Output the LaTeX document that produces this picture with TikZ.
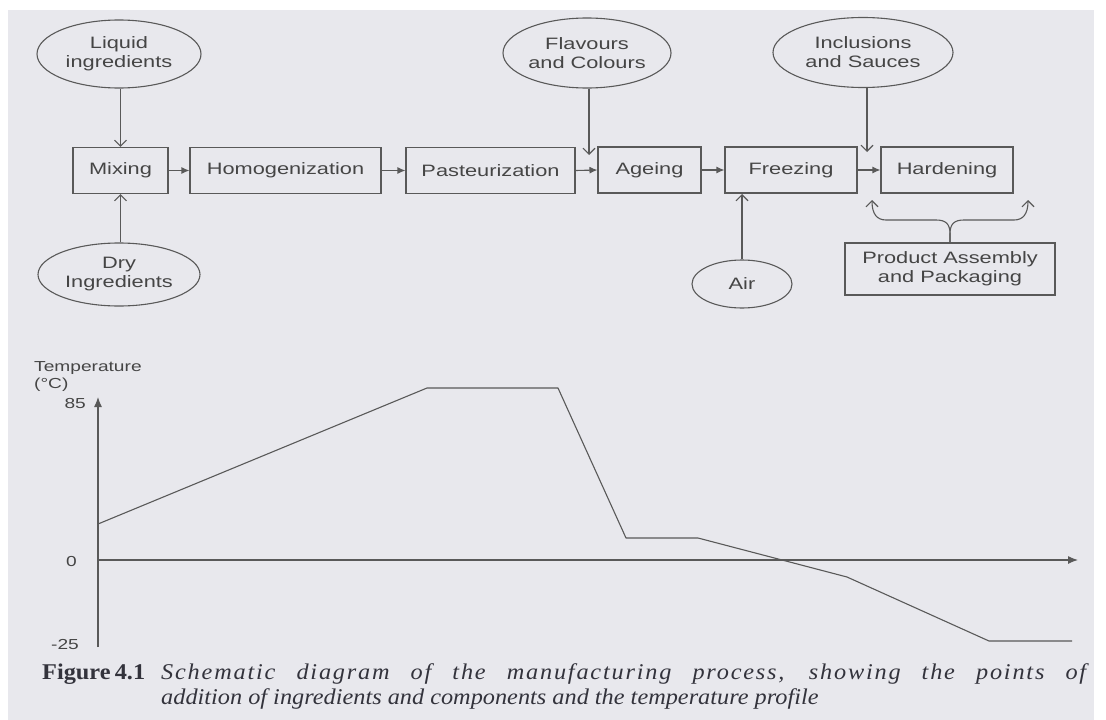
\documentclass[tikz,border=0pt]{standalone}
\usepackage{fontspec}
\setmainfont[FakeStretch=1.32]{Liberation Sans}
\newfontfamily\capfont[FakeStretch=1.08]{Liberation Serif}
\newfontfamily\capfontls[FakeStretch=1.08,LetterSpace=8]{Liberation Serif}
\usetikzlibrary{shapes.geometric,arrows.meta}
\definecolor{bgc}{HTML}{E8E8ED}
\definecolor{lc}{HTML}{595959}
\definecolor{tc}{HTML}{454545}
\definecolor{capc}{HTML}{33333C}
\newcommand\dfont{\fontsize{16.5}{19}\selectfont}
\newcommand\afont{\fontsize{14.5}{16}\selectfont}
\newcommand\cfont{\capfont\fontsize{22.5}{25}\selectfont}
\begin{document}
\begin{tikzpicture}[x=1pt,y=-1pt,
  procbox/.style={draw=lc, line width=1.1pt, rectangle, minimum height=46pt, inner sep=0pt, text=tc, font=\dfont, align=center},
  ingr/.style={draw=lc, line width=1.1pt, ellipse, inner sep=0pt, text=tc, font=\dfont, align=center},
  flowarrow/.style={draw=lc, line width=1.1pt, -{Latex[length=8pt,width=7pt]}},
  feedarrow/.style={draw=lc, line width=1.1pt, -{Straight Barb[length=6pt,width=12pt]}},
  axisarrow/.style={draw=lc, line width=1.2pt, -{Latex[length=10pt,width=8pt]}},
  axlabel/.style={inner sep=0pt, text=tc, font=\afont},
  curveline/.style={draw=lc, line width=1.1pt, line join=round},
  captext/.style={inner sep=0pt, text=capc, font=\cfont, anchor=base west}
]
\useasboundingbox (0,0) rectangle (1106,720);
\fill[white] (0,0) rectangle (1106,720);
\fill[bgc] (8,10) rectangle (1094,720);

% process boxes
\node[procbox, minimum width=95pt]  (mix)  at (120.5,170.5) {Mixing};
\node[procbox, minimum width=191pt] (hom)  at (285.5,170.5) {Homogenization};
\node[procbox, minimum width=169pt] (pas)  at (490.5,170.5) {Pasteurization};
\node[procbox, minimum width=103pt] (age)  at (649.5,170)   {Ageing};
\node[procbox, minimum width=132pt] (frz)  at (791,170)     {Freezing};
\node[procbox, minimum width=132pt] (hard) at (947,170)     {Hardening};
\node[procbox, minimum width=210pt, minimum height=52pt] (pab) at (950,269) {Product Assembly\\and Packaging};

% ingredient ellipses
\node[ingr, minimum width=164pt, minimum height=68pt] (liq) at (119,54)  {Liquid\\ingredients};
\node[ingr, minimum width=162pt, minimum height=63pt] (dry) at (119,274.5) {Dry\\Ingredients};
\node[ingr, minimum width=168pt, minimum height=70pt] (flav) at (587,53) {Flavours\\and Colours};
\node[ingr, minimum width=180pt, minimum height=70pt] (incl) at (863,52.5) {Inclusions\\and Sauces};
\node[ingr, minimum width=100pt, minimum height=48pt] (air) at (742,284) {Air};

% process flow
\draw[flowarrow] (mix.east) -- (hom.west);
\draw[flowarrow] (hom.east) -- (pas.west);
\draw[flowarrow] (pas.east) -- (age.west);
\draw[flowarrow] (age.east) -- (frz.west);
\draw[flowarrow] (frz.east) -- (hard.west);

% feeds
\coordinate (fa) at (589,155);
\coordinate (ia) at (867,152);
\coordinate (aa) at (742,194);
\coordinate (lt) at (872,200);
\coordinate (rt) at (1028,200);
\draw[feedarrow] (liq.south -| mix.north) -- (mix.north);
\draw[feedarrow] (dry.north -| mix.south) -- (mix.south);
\draw[feedarrow] (flav.south -| fa) -- (fa);
\draw[feedarrow] (incl.south -| ia) -- (ia);
\draw[feedarrow] (air.north) -- (aa);
\draw[feedarrow] (pab.north) -- (950,234) .. controls (950,224) and (946,220) .. (936,220) -- (886,220) .. controls (877,220) and (872,214) .. (lt);
\draw[feedarrow] (pab.north) -- (950,234) .. controls (950,224) and (954,220) .. (964,220) -- (1014,220) .. controls (1023,220) and (1028,214) .. (rt);

% temperature chart
\coordinate (o) at (98,560);
\coordinate (ytop) at (98,397);
\coordinate (ybot) at (98,647);
\coordinate (xend) at (1078,560);
\draw[axisarrow] (ybot) -- (ytop);
\draw[axisarrow] (o) -- (xend);
\node[axlabel, anchor=west] (tlab) at (34,368) {Temperature};
\node[axlabel, anchor=west] (ulab) at (34,385) {(°C)};
\node[axlabel, anchor=east] (l85) at (86,404) {85};
\node[axlabel, anchor=east] (l0)  at (77,562) {0};
\node[axlabel, anchor=east] (l25) at (79,645) {-25};
\draw[curveline] (98,524) -- (427,388) -- (558,388) -- (626,538) -- (698,538) -- (847,577) -- (989,641) -- (1072,641);

% caption
\node[captext] (figlab) at (42,679) {\hbox to 103pt{\bfseries Figure 4.1}};
\node[captext] (cap1) at (161,679) {\hbox to 925pt{\capfontls\fontsize{22.5}{25}\selectfont\itshape Schematic diagram of the manufacturing process, showing the points of}};
\node[captext] (cap2) at (161,704) {\itshape addition of ingredients and components and the temperature profile};
\end{tikzpicture}
\end{document}
